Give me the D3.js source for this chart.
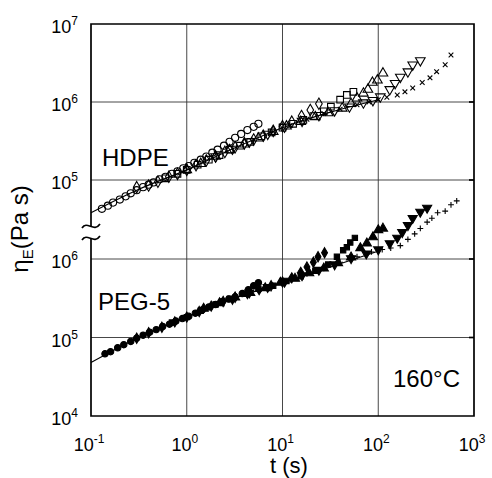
<!DOCTYPE html>
<html>
<head>
<meta charset="utf-8">
<script src="https://cdn.jsdelivr.net/npm/d3@7"></script>
<style>
  body { margin: 0; background: #fff; }
  svg { font-family: "Liberation Sans", Arial, Helvetica, sans-serif; }
</style>
</head>
<body>
<div id="chart"></div>
<script>
// ---- data: [t (s), etaE (Pa s)] ----
// HDPE (open symbols, upper panel)
const hdpeCircles = [[0.13,4.27e4],[0.15,4.68e4],[0.17,5.13e4],[0.2,5.62e4],[0.23,6.17e4],[0.26,6.76e4],[0.3,7.4e4],[0.35,8.1e4],[0.4,8.7e4],[0.45,9.3e4],[0.52,1.02e5],[0.6,1.10e5],[0.7,1.20e5],[0.8,1.29e5],[0.92,1.41e5],[1.05,1.51e5],[1.2,1.66e5],[1.4,1.82e5],[1.6,2.0e5],[1.85,2.24e5],[2.1,2.45e5],[2.45,2.75e5],[2.8,3.09e5],[3.2,3.47e5],[3.7,3.89e5],[4.3,4.37e5],[5.0,4.8e5],[5.6,5.25e5]];
const hdpeDiamonds = [[0.3,8.1e4],[0.4,8.5e4],[0.5,9.5e4],[0.65,1.10e5],[0.8,1.20e5],[1.0,1.35e5],[1.25,1.55e5],[1.6,1.78e5],[2.0,2.0e5],[2.5,2.29e5],[3.2,2.63e5],[4.0,2.95e5],[5.0,3.3e5],[6.3,3.7e5],[8.0,4.27e5],[10,4.9e5],[12.5,5.6e5],[15.8,6.6e5],[19.5,7.9e5],[24,9.5e5]];
const hdpeSquares = [[0.6,1.05e5],[0.8,1.20e5],[1.0,1.35e5],[1.3,1.57e5],[1.7,1.82e5],[2.2,2.09e5],[2.8,2.45e5],[3.6,2.75e5],[4.6,3.09e5],[6.0,3.63e5],[7.7,4.07e5],[10,4.68e5],[12.9,5.25e5],[16.5,5.9e5],[21,6.6e5],[27,7.6e5],[32,8.7e5],[40,1.07e6],[47,1.23e6],[55,1.35e6]];
const hdpeTriUp = [[1.0,1.35e5],[1.4,1.62e5],[2.0,2.0e5],[2.8,2.43e5],[4.0,2.88e5],[5.6,3.43e5],[8.0,4.17e5],[11,4.9e5],[15.5,5.6e5],[22,6.46e5],[30,7.24e5],[42,8.3e5],[52,9.5e5],[60,1.12e6],[70,1.29e6],[78,1.45e6],[87,1.78e6],[98,1.9e6],[112,2.34e6]];
const hdpeTriDown = [[2.0,2.0e5],[3.0,2.5e5],[4.5,3.09e5],[7.0,3.89e5],[10.5,4.79e5],[16,5.7e5],[24,6.76e5],[35,7.76e5],[50,8.7e5],[70,9.8e5],[88,1.05e6],[105,1.17e6],[132,1.45e6],[150,1.74e6],[170,2.09e6],[204,2.45e6],[229,3.0e6],[275,3.4e6]];
const hdpeCross = [[5,3.3e5],[8,4.17e5],[12,5.0e5],[18,6.0e5],[27,7.1e5],[40,8.1e5],[60,9.2e5],[80,1.0e6],[100,1.07e6],[123,1.15e6],[158,1.23e6],[190,1.35e6],[229,1.51e6],[288,1.78e6],[347,2.04e6],[407,2.45e6],[500,3.0e6],[575,4.0e6]];
const hdpeFit = [[0.1,3.8e4],[0.316,7.6e4],[1,1.35e5],[3.16,2.57e5],[10,4.68e5],[31.6,7.4e5],[100,1.07e6]];

// PEG-5 (filled symbols, lower panel)
const pegCircles = [[0.14,6.2e4],[0.16,6.6e4],[0.19,7.4e4],[0.22,8.1e4],[0.26,8.9e4],[0.3,9.8e4],[0.35,1.07e5],[0.41,1.17e5],[0.48,1.26e5],[0.56,1.38e5],[0.66,1.48e5],[0.77,1.62e5],[0.9,1.74e5],[1.05,1.86e5],[1.23,2.04e5],[1.45,2.24e5],[1.7,2.45e5],[2.0,2.63e5],[2.35,2.88e5],[2.75,3.09e5],[3.2,3.3e5],[3.8,3.63e5],[4.4,4.07e5],[5.0,4.57e5],[5.6,5.0e5]];
const pegDiamonds = [[0.3,9.8e4],[0.4,1.15e5],[0.55,1.35e5],[0.75,1.58e5],[1.0,1.82e5],[1.35,2.14e5],[1.8,2.51e5],[2.4,2.88e5],[3.2,3.24e5],[4.3,3.63e5],[5.7,4.07e5],[7.6,4.57e5],[10,5.1e5],[12.5,5.75e5],[15.5,6.76e5],[18,7.9e5],[21,9.1e5],[23.5,1.07e6],[27.5,1.2e6]];
const pegSquares = [[0.7,1.55e5],[1.0,1.82e5],[1.4,2.19e5],[2.0,2.63e5],[2.8,3.09e5],[4.0,3.6e5],[5.6,4.17e5],[8.0,4.57e5],[11,5.25e5],[15.5,6.03e5],[22,7.08e5],[30,8.5e5],[37,1.07e6],[43,1.29e6],[47,1.41e6],[51,1.62e6],[57,1.86e6]];
const pegTriUp = [[1.5,2.34e5],[2.2,2.75e5],[3.2,3.24e5],[4.6,3.72e5],[6.6,4.27e5],[9.5,5.0e5],[13.5,5.62e5],[19,6.6e5],[27,7.6e5],[38,8.9e5],[52,1.05e6],[65,1.38e6],[76,1.58e6],[88,1.9e6],[100,2.34e6],[112,2.45e6]];
const pegTriDown = [[3,3.09e5],[4.5,3.72e5],[7,4.37e5],[10.5,5.1e5],[16,6.17e5],[24,7.24e5],[35,8.5e5],[52,1.02e6],[75,1.17e6],[100,1.32e6],[132,1.58e6],[158,1.86e6],[178,2.19e6],[204,2.69e6],[229,3.31e6],[275,3.98e6],[324,4.47e6]];
const pegPlus = [[8,4.57e5],[12,5.37e5],[18,6.46e5],[27,7.6e5],[40,9.1e5],[60,1.07e6],[85,1.23e6],[110,1.32e6],[135,1.38e6],[170,1.48e6],[204,1.78e6],[240,2.09e6],[275,2.45e6],[324,2.95e6],[363,3.31e6],[417,3.89e6],[500,4.07e6],[575,4.9e6],[660,5.5e6]];
const pegFit = [[0.1,4.8e4],[0.316,1.0e5],[1,1.82e5],[3.16,3.16e5],[10,5.0e5],[31.6,7.9e5],[100,1.26e6]];

// ticks
const xTicks = [0.1, 1, 10, 100, 1000];
const xTickExp = ["-1", "0", "1", "2", "3"];
const yTopTicks = [1e5, 1e6, 1e7];
const yTopExp = ["5", "6", "7"];
const yBotTicks = [1e4, 1e5, 1e6];
const yBotExp = ["4", "5", "6"];

// ---- layout ----
const W = 492, H = 478;
const mg = {left: 91, top: 24, right: 18, bottom: 62};
const w = W - mg.left - mg.right,
      h = H - mg.top - mg.bottom;

const svg = d3.select("#chart").append("svg")
  .attr("width", W)
  .attr("height", H);

const g = svg.append("g")
  .attr("transform", `translate(${mg.left},${mg.top})`);

// one x scale, two y scales (broken axis)
const x = d3.scaleLog().domain([0.1, 1000]).range([0, w]);
const yTop = d3.scaleLog().domain([1e5, 1e7]).range([156, 0]);
const yBot = d3.scaleLog().domain([1e4, 1e6]).range([h, 235]);

// grid lines
const grid = g.append("g").attr("class", "grid")
  .style("stroke", "#333")
  .style("stroke-width", 0.9);

grid.selectAll(".vgrid")
  .data(xTicks.slice(1, -1))
  .enter().append("line")
  .attr("x1", d => x(d)).attr("x2", d => x(d))
  .attr("y1", 0).attr("y2", h);

const hLines = [yTop(1e6), yTop(1e5), yBot(1e6), yBot(1e5)];
grid.selectAll(".hgrid")
  .data(hLines)
  .enter().append("line")
  .attr("x1", 0).attr("x2", w)
  .attr("y1", d => d).attr("y2", d => d);

// fit lines
const lineTop = d3.line().x(d => x(d[0])).y(d => yTop(d[1])).curve(d3.curveMonotoneX);
const lineBot = d3.line().x(d => x(d[0])).y(d => yBot(d[1])).curve(d3.curveMonotoneX);

g.append("path").attr("d", lineTop(hdpeFit))
  .style("fill", "none").style("stroke", "#000").style("stroke-width", 1.2);
g.append("path").attr("d", lineBot(pegFit))
  .style("fill", "none").style("stroke", "#000").style("stroke-width", 1.2);

// custom thin-stroke symbols
const symbolX = {
  draw (ctx, size) {
    const r = Math.sqrt(size) / 2;
    ctx.moveTo(-r, -r); ctx.lineTo(r, r);
    ctx.moveTo(r, -r); ctx.lineTo(-r, r);
  }
};
const symbolPlus = {
  draw (ctx, size) {
    const r = Math.sqrt(size) / 2;
    ctx.moveTo(-r, 0); ctx.lineTo(r, 0);
    ctx.moveTo(0, -r); ctx.lineTo(0, r);
  }
};

function addSeries (data, yScale, type, size, filled, rotate) {
  const sym = d3.symbol().type(type).size(size);
  g.append("g").selectAll("path")
    .data(data)
    .enter().append("path")
    .attr("d", sym)
    .attr("transform", d => `translate(${x(d[0])},${yScale(d[1])})` + (rotate ? " rotate(180)" : ""))
    .style("fill", filled ? "#000" : "none")
    .style("stroke", "#000")
    .style("stroke-width", 1.1);
}

// HDPE, open
addSeries(hdpeCircles, yTop, d3.symbolCircle, 40, false);
addSeries(hdpeDiamonds, yTop, d3.symbolDiamond, 38, false);
addSeries(hdpeSquares, yTop, d3.symbolSquare, 44, false);
addSeries(hdpeTriUp, yTop, d3.symbolTriangle, 40, false);
addSeries(hdpeTriDown, yTop, d3.symbolTriangle, 40, false, true);
addSeries(hdpeCross, yTop, symbolX, 22, false);

// PEG-5, filled
addSeries(pegCircles, yBot, d3.symbolCircle, 32, true);
addSeries(pegDiamonds, yBot, d3.symbolDiamond, 30, true);
addSeries(pegSquares, yBot, d3.symbolSquare, 28, true);
addSeries(pegTriUp, yBot, d3.symbolTriangle, 36, true);
addSeries(pegTriDown, yBot, d3.symbolTriangle, 36, true, true);
addSeries(pegPlus, yBot, symbolPlus, 34, false);

// frame with break on the left side
const frame = g.append("g")
  .style("stroke", "#000")
  .style("stroke-width", 1.7)
  .style("fill", "none");

const breakA = 202, breakB = 214;
frame.append("path")
  .attr("d", `M0,${breakA} V0 H${w} V${h} H0 V${breakB}`);

// "≈" break marks
[breakA, breakB].forEach(yy => {
  frame.append("path")
    .attr("d", `M-9,${yy + 2} C-4,${yy - 6} 3,${yy + 7} 9,${yy - 2}`);
});

// inward ticks on right side
frame.selectAll(".rtick")
  .data(hLines)
  .enter().append("line")
  .attr("x1", w - 5).attr("x2", w)
  .attr("y1", d => d).attr("y2", d => d);

// ---- text ----
const fontTick = 18, fontSup = 12;

// x tick labels
const xLab = g.append("g").selectAll("text")
  .data(xTicks)
  .enter().append("text")
  .attr("x", d => x(d) - 2)
  .attr("y", h + 35)
  .attr("text-anchor", "middle")
  .style("font-size", fontTick + "px");
xLab.append("tspan").text("10");
xLab.append("tspan").attr("dy", -8).style("font-size", fontSup + "px").text((d, i) => xTickExp[i]);

// y tick labels
function yLabels (ticks, exps, scale) {
  const lab = g.append("g").selectAll("text")
    .data(ticks)
    .enter().append("text")
    .attr("x", -13)
    .attr("y", d => scale(d) + 9)
    .attr("text-anchor", "end")
    .style("font-size", fontTick + "px");
  lab.append("tspan").text("10");
  lab.append("tspan").attr("dy", -8).style("font-size", fontSup + "px").text((d, i) => exps[i]);
}
yLabels(yTopTicks, yTopExp, yTop);
yLabels(yBotTicks, yBotExp, yBot);

// axis titles
svg.append("text")
  .attr("x", 289).attr("y", 473)
  .attr("text-anchor", "middle")
  .style("font-size", "22px")
  .text("t (s)");

const yt = svg.append("text")
  .attr("transform", "translate(28,229) rotate(-90)")
  .attr("text-anchor", "middle")
  .style("font-size", "24px");
yt.append("tspan").text("η");
yt.append("tspan").attr("dy", 5).style("font-size", "15px").text("E");
yt.append("tspan").attr("dy", -5).text("(Pa s)");

// panel labels
svg.append("text").attr("x", 102).attr("y", 166)
  .style("font-size", "24px").text("HDPE");
svg.append("text").attr("x", 98).attr("y", 310)
  .style("font-size", "24px").text("PEG-5");
svg.append("text").attr("x", 393).attr("y", 387)
  .style("font-size", "24px").text("160°C");
</script>
</body>
</html>
